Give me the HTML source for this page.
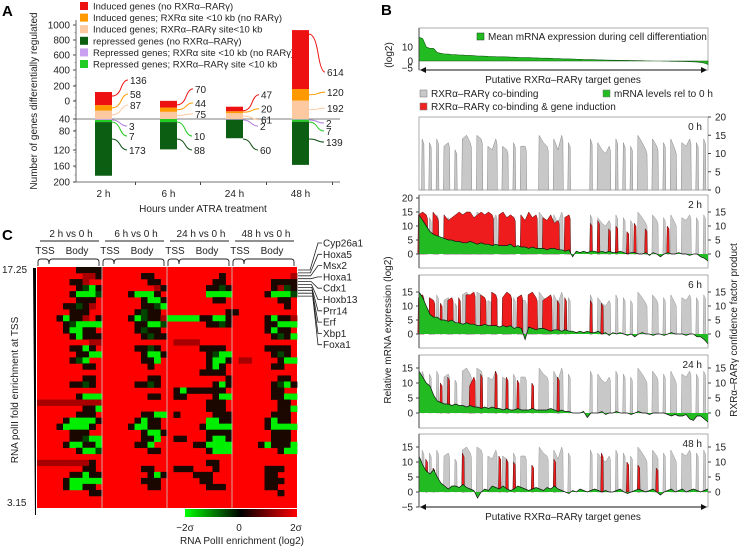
<!DOCTYPE html>
<html><head><meta charset="utf-8"><style>
html,body{margin:0;padding:0;background:#fff}
svg{display:block;font-family:"Liberation Sans",sans-serif}
</style></head><body>
<svg id="fig" width="743" height="546" viewBox="0 0 743 546" xmlns="http://www.w3.org/2000/svg">
<g id="pa"></g>
<g id="pb"></g>
<g id="pc"></g>
</svg>
<script>
// ---------- Panel A data ----------
const aTimes = ["2 h","6 h","24 h","48 h"];
const aPale = [87,75,61,192];
const aOrange = [58,44,20,120];
const aRed = [136,70,47,614];
const aLilac = [3,0,2,2];
const aGreen = [7,10,0,7];
const aDark = [173,88,60,139];
const aUpTicks = [1000,800,600,400,200,0];
const aDownTicks = [40,80,120,160,200];
// ---------- Panel B data ----------
const bMean = [17,16,10,9,9,6,5.5,5,5,4.5,4.5,4.3,4.2,4,4,3.8,3.6,3.5,3.4,3.3,3.2,3.1,3,3,2.9,2.8,2.7,2.6,2.5,2.5,2.4,2.3,2.2,2.1,2,2,1.9,1.8,1.7,1.6,1.5,1.5,1.4,1.3,1.2,1.1,1,1,0.9,0.8,0.8,0.7,0.6,0.6,0.5,0.5,0.4,0.4,0.3,0.3,0.2,0.2,0.1,0.1,0,0,0,-0.1,-0.1,-0.2,-0.2,-0.3,-0.3,-0.4,-0.5,-0.6,-0.8,-1,-1.5,-2.5];
const bBind = [0,14,0,13,0,14,0,12,13,0,11,0,14,15,13,0,15,14,0,12,11,14,0,12,11,0,13,0,12,12,0,0,0,15,13,12,0,14,11,15,0,13,0,0,0,0,0,14,0,13,11,10,12,0,14,0,13,0,12,0,15,13,11,0,14,12,0,13,0,14,11,0,13,12,14,0,13,0,14,0];
const bRed2 = [14,15,14,0,15,13,0,14,12,13,14,15,14,15,15,13,14,15,14,15,14,0,14,15,13,14,13,0,14,12,15,13,14,0,13,12,14,11,12,0,13,14,0,0,0,0,0,11,0,12,0,0,9,0,10,0,0,8,0,11,0,0,9,0,0,0,0,0,10,0,0,0,0,0,0,0,0,0,0,0];
const bRed6 = [13,14,0,13,12,0,11,0,12,13,0,13,0,14,14,15,0,14,13,0,15,14,0,13,15,14,0,13,14,0,14,15,13,0,12,13,14,0,12,0,13,0,0,0,0,0,0,12,0,0,11,0,0,0,0,0,0,0,0,0,0,0,0,0,0,0,0,0,0,0,0,0,0,0,0,0,0,0,0,0];
const bRed24 = [0,0,0,0,0,0,10,0,12,0,0,0,0,0,9,12,0,13,0,0,0,14,0,0,12,0,0,11,0,0,0,10,0,0,0,0,0,0,12,0,0,0,0,0,0,0,0,0,0,0,0,0,0,0,0,0,0,0,0,0,0,0,0,0,0,0,0,0,0,0,0,0,0,0,0,0,0,0,0,0];
const bRed48 = [0,0,11,0,8,0,0,0,0,0,0,0,13,0,0,0,0,0,0,0,0,0,12,0,11,0,10,0,0,0,0,9,0,0,0,0,0,11,0,0,0,0,0,0,0,0,0,0,0,0,13,0,0,0,0,0,0,10,0,0,9,0,0,0,0,8,0,0,0,0,0,0,0,0,0,0,0,0,0,0];
const bM2 = [14,12,10,8,7,6.5,6,5.5,5,5,4.5,4.5,4,4,4.5,4,3.5,4,3.5,3.5,3,3.5,3,3,3,3.5,2.5,3,2.5,2.5,2,2.5,2,2,2,1.5,2,2,1.5,1.5,1,1.5,-1,1,0.5,1,0.5,1,1,0.5,1,0.5,1,0.5,0.5,1,0.5,0,0.5,0.5,0,0,0.5,-0.5,0.5,0,-1,0,0.5,0,0,0.5,0,0,-0.5,0,0,-1,-1.5,-2.5];
const bM6 = [15,13,10,7,6,6,5,5,4.5,5,4,4,3.5,4,3.5,3.5,3,3,3.5,3,3,3,2.5,3,2.5,3,2,2.5,2,-2,2.5,2,1.5,2,2,1.5,1,1.5,1.5,1,1.5,1,1,0.5,1,0.5,1,0.5,0.5,1,0,0.5,-0.5,0.5,0,0.5,0,-0.5,0,-1,0,0.5,0,0,-0.5,0,0,-0.5,0,0.5,0,0,0,-0.5,0,0,-1,-1,-2,-3.5];
const bM24 = [14,12,10,9,6,4,3.5,3,3,2.5,3,2.5,2.5,2,2.5,2,2,1.5,2,1.5,2,1.5,1.5,1,1.5,1,1,1.5,1,1,1,1.5,1,1,1,1,1.5,1,0.5,1,0.5,0.5,0,0,0,0.5,-1.5,0,0,0,0.5,-0.5,0,0,0.5,0,0,0,-0.5,0,0.5,0,0,-0.5,0,0,0,0,-0.5,-1,-0.5,-1,-1,-0.5,-2,-2.5,-1,-1,-2,-3];
const bM48 = [12,9,7,6,7.5,5,3,2,1,2,2,1.5,2.5,1.5,1,0.5,-2,0,1,0.5,2,1.5,1,2,1,0.5,1,2,1.5,1,0.5,1,1.5,1,0.5,1.5,1,2,1,0.5,0,-0.5,0.5,0,1,0.5,0,0.5,1,0.5,0,0.5,0,0,0.5,1,0,-0.5,0,0.5,1,0.5,0,0.5,1,0,-1,0,0.5,1,0,0.5,1,0,0.5,1,0.5,0,0.5,1];
const bPanelLabels = ["2 h","6 h","24 h","48 h"];
const bLeftTicks = [15,10,5,0];
const bRightTicks = [15,10,5,0];
// ---------- Panel C data ----------
const cBlocks = ["2 h vs 0 h","6 h vs 0 h","24 h vs 0 h","48 h vs 0 h"];
const cGenes = ["Cyp26a1","Hoxa5","Msx2","Hoxa1","Cdx1","Hoxb13","Prr14","Erf","Xbp1","Foxa1"];
const cRows = [
"RRRRRRkkkkRRRRRRRRRRRRRRRRRRRRRRRRRRRRRR",
"RRRRRRRddkRRRRRRkkRRRRRRRRRRkRRRRRRRRRRd",
"RRRRRkkdRRRRRRRRRkkRRRRRRRRkkRRRRRRRkkkk",
"RRRRRRkxgkRRRRRRRRdkRRRRRRkkxkRRRRRRkdxk",
"RRRRRkgggxRRRRkgggkRRRRRRRggggRRRRRkgggx",
"RRRRRRkkkRRRRRRRkggkRRRRRRRkkRRRRRRRRkkR",
"RRRRkkxkdRRRRRRRkkxgRRRRRRRRRRRRRRRRRRkR",
"RRRRRkkkRRRRRRRkxkkRRRRRRRRRRkkRRRRRRRRR",
"RRRkgkkdRkRRRRkgxkkdgggggkkggkRRRRRkgkkd",
"RRRRkxggggRRRRRkkggxRRRRRRkkxkRRRRRkkggg",
"RRRRkggkkRRRRRRkxkkRRRRRRRRRRRRRRRRkgkkR",
"RRRRRkgkkkRRRRRRkxkkRRRRRRRRRRRRRRRRkxkg",
"RRRRRRRRddRRRRRRRRRRRddddRRRRRRRRRRRRRRR",
"RRRRRkkgkRRRRRRkkxkRRRRRRkkkkRRRRRRkkkkR",
"RRRRRRkkggRRRRRRkggkRRRRRRkxggRRRRRRkxkR",
"RRRRRkxgRRRRRRRRkkgRRRRRRRkggkRddRRRRkgg",
"RRRRRRRkkRRRRRRRRkRRRRRRRRkgkRRRRRRRkkRR",
"RRRRRRRRRRRRRRRRRRRRRRRRRkkkkRRRRRRRRRRR",
"RRRRRRRkkRRRRRRRRkkRRRRRRRRRRkRRRRRRRkkR",
"RRRRRkkxkRRRRRRkkxkRRRRRRRRkgkRRRRRRkxgk",
"RRRRRRRRRRRRRRRRRRRRRkgkkkkkkRRRRRRRkkRR",
"RRRRRRkgggRRRRRRRkkRRkkRRRRkggRRRRRRkkgg",
"ddddddddddRRRRRRRRRRRRRRRRkkkRRRRRRRRkkR",
"RRRRRRRkkgRRRRRRRRRRRRRRRRkkkRRRRRRRRkkg",
"RRRRRRkkkRRRRRRRkkggRkRRRRRkkkRRRRRRkkkR",
"RRRRkggggkRRRRRkgkkRRRRRRRggkkRRRRRkgkkR",
"RRRkggggkRRRRRkggkkRRRRRRkggggRRRRRkgggg",
"RRRRRkkkRRRRRRRRkggkRRRRRRkkkkRRRRRRkkkR",
"RRRRRkkxggRRRRRRkkgRRkkRRRkggkRRRRRRkkkR",
"RRRRkggkkgRRRRRkkgRRRRRRkkggggRRRRkgkkkg",
"RRRRRRkggxRRRRRRRkkRRRRRRRkgggRRRRRRRkgg",
"RRRRRRRRRRRRRRRRRRRRRRRRRRRRRRRRRRRRRRRR",
"ddddddddkRRRRRRRRRRRRRRRRRkkRRRRRRRRRRRR",
"RRRRRRRkkRRRRRRRkkRRRkkkRRRkRRRRRRRkkkRR",
"RRRRRkkgkkRRRRRRRkgkRRRRkkkRRRRRRRRkkRRR",
"RRRRkgggggRRRRRRkkkRRRRRRkkRRRRRRRRkkkRR",
"RRRRkggkkRRRRRRRRkkRRRRRRRkkkRRRRRRkkRRR",
"RRRRRRRRkkRRRRRRRRRRRRRRRRRRRRRRRRRRRkRR",
"RRRRRRRRRRRRRRRRRRRRRRRRRRRRRRRRRRRRRRRR",
"RRRRRRRRRRRRRRRRRRRRRRRRRRRRRRRRRRRRRRRR"];

const NS="http://www.w3.org/2000/svg";
function mk(parent,tag,attrs,text){const e=document.createElementNS(NS,tag);for(const k in attrs)e.setAttribute(k,attrs[k]);if(text!==undefined)e.textContent=text;parent.appendChild(e);return e;}
const pa=document.getElementById('pa'),pb=document.getElementById('pb'),pc=document.getElementById('pc');

// ===== Panel A =====
let t=mk(pa,'text',{x:2,y:16,'font-size':15,'font-weight':'bold'},'A');


const aLeg=[["#ee1111","Induced genes (no RXRα–RARγ)"],["#ff9900","Induced genes; RXRα site <10 kb (no RARγ)"],["#fcc9a0","Induced genes; RXRα–RARγ site<10 kb"],["#0b5e12","repressed genes (no RXRα–RARγ)"],["#c9a0f0","Repressed genes; RXRα site <10 kb (no RARγ)"],["#22cc22","Repressed genes; RXRα–RARγ site <10 kb"]];
aLeg.forEach((l,i)=>{const y=6+i*11.6;
 const g=mk(pa,'g',{});
 
 
 mk(g,'rect',{x:80,y:y-4,width:8,height:8,fill:l[0]});
 mk(g,'text',{x:93,y:y+3.5,'font-size':9.5,fill:'#222'},l[1]);});
const A0=119, upS=0.096, dnS=0.31;
const upTickY=[25,40,55,70,86,101], dnTickY=[119,131,150,166,182];
mk(pa,'line',{x1:76,y1:20,x2:76,y2:182,stroke:'#444','stroke-width':0.8});
aUpTicks.forEach((v,i)=>{mk(pa,'line',{x1:73,x2:76,y1:upTickY[i],y2:upTickY[i],stroke:'#444'});
 const tt=mk(pa,'text',{x:70,y:upTickY[i]+3.5,'font-size':10,'text-anchor':'end',fill:'#222'},String(v));
 });
aDownTicks.forEach((v,i)=>{mk(pa,'line',{x1:73,x2:76,y1:dnTickY[i],y2:dnTickY[i],stroke:'#444'});
 const tt=mk(pa,'text',{x:70,y:dnTickY[i]+3.5,'font-size':10,'text-anchor':'end',fill:'#222'},String(v));
 });
for(let y=25;y<182;y+=7.5){mk(pa,'line',{x1:74.5,x2:76,y1:y,y2:y,stroke:'#666','stroke-width':0.5});}
t=mk(pa,'text',{x:0,y:0,'font-size':10,'text-anchor':'middle',transform:'translate(37,101) rotate(-90)',fill:'#222'},'Number of genes differentially regulated');

mk(pa,'line',{x1:76,y1:182,x2:340,y2:182,stroke:'#444','stroke-width':0.8});
mk(pa,'line',{x1:76,y1:A0,x2:340,y2:A0,stroke:'#555','stroke-width':0.8});
const barX=[95,160,226,292];
aTimes.forEach((lab,i)=>{
 const x=barX[i],w=17;let y=A0;
 const g=mk(pa,'g',{});
 
 
 [[aPale[i],'#fcc9a0'],[aOrange[i],'#ff9900'],[aRed[i],'#ee1111']].forEach(s=>{const h=s[0]*upS;y-=h;mk(g,'rect',{x:x,y:y,width:w,height:h,fill:s[1]});});
 let yd=A0;
 [[aLilac[i],'#c9a0f0'],[aGreen[i],'#22cc22'],[aDark[i],'#0b5e12']].forEach(s=>{const h=s[0]*dnS;mk(g,'rect',{x:x,y:yd,width:w,height:h,fill:s[1]});yd+=h;});
 const top=A0-(aPale[i]+aOrange[i]+aRed[i])*upS;
 const up=[[aRed[i],'#ee1111',top+4,top-12],[aOrange[i],'#ff9900',A0-(aPale[i]+aOrange[i]*0.5)*upS,top+2],[aPale[i],'#fcc9a0',A0-aPale[i]*0.5*upS,top+13]];
 if(i===3){up[0][3]=top+42;up[1][3]=top+62;up[2][3]=top+78;}
 up.forEach(u=>{mk(pa,'path',{d:`M${x+w} ${u[2]} Q${x+w+6} ${u[2]} ${x+w+9} ${(u[2]+u[3])/2} T${x+w+16} ${u[3]}`,fill:'none',stroke:u[1],'stroke-width':1});
  const tt=mk(pa,'text',{x:x+w+18,y:u[3]+4,'font-size':10,fill:'#222'},String(u[0]));
  });
 const dn=[[aLilac[i],'#b080e0',A0+1,A0+7],[aGreen[i],'#22cc22',A0+3,A0+17],[aDark[i],'#0b4e10',A0+20,A0+31]];
 if(i===3){dn[0][3]=A0+4;dn[1][3]=A0+12;dn[2][3]=A0+23;}
 dn.forEach(u=>{if(!u[0])return;mk(pa,'path',{d:`M${x+w} ${u[2]} Q${x+w+5} ${u[2]} ${x+w+8} ${(u[2]+u[3])/2} T${x+w+15} ${u[3]}`,fill:'none',stroke:u[1],'stroke-width':1});
  const tt=mk(pa,'text',{x:x+w+17,y:u[3]+4,'font-size':10,fill:'#222'},String(u[0]));
  });
 const xt=mk(pa,'text',{x:x+w/2,y:197,'font-size':10,'text-anchor':'middle',fill:'#222'},lab);
 
 mk(pa,'line',{x1:x+w/2+32,x2:x+w/2+32,y1:182,y2:185,stroke:'#444'});
});
t=mk(pa,'text',{x:203,y:212,'font-size':10,'text-anchor':'middle',fill:'#222'},'Hours under ATRA treatment');


// ===== Panel B =====
t=mk(pb,'text',{x:381,y:15,'font-size':15,'font-weight':'bold'},'B');

const X0=419,X1=708,N=bBind.length;
const gx=i=>X0+i*(X1-X0)/(N-1);
function area(g,arr,yf,fill,stroke){let d=`M${gx(0)} ${yf(0)}`;arr.forEach((v,i)=>d+=` L${gx(i).toFixed(1)} ${yf(v).toFixed(1)}`);d+=` L${gx(N-1)} ${yf(0)} Z`;mk(g,'path',{d:d,fill:fill,stroke:stroke||'none','stroke-width':0.6});}
// spike area: zeros drop to base right next to neighbours, giving narrow spikes
function spikes(g,arr,yf,fill,stroke){
 let d='';
 let open=false;
 arr.forEach((v,i)=>{
  const x=gx(i);
  if(v>0){
   if(!open){d+=`M${(x-1.2).toFixed(1)} ${yf(0)} L${(x-0.6).toFixed(1)} ${yf(v).toFixed(1)}`;open=true;}
   else d+=` L${x.toFixed(1)} ${yf(v).toFixed(1)}`;
   const nx=arr[i+1];
   if(!(nx>0)){d+=` L${(x+1.2).toFixed(1)} ${yf(v*0.9).toFixed(1)} L${(x+1.6).toFixed(1)} ${yf(0)} Z `;open=false;}
  }
 });
 mk(g,'path',{d:d,fill:fill,stroke:stroke||'none','stroke-width':0.5});
}
function line(g,arr,yf){let d='';arr.forEach((v,i)=>d+=(i?' L':'M')+gx(i).toFixed(1)+' '+yf(v).toFixed(1));mk(g,'path',{d:d,fill:'none',stroke:'#111','stroke-width':0.7});}
{const g=mk(pb,'g',{});
 const yf=v=>61-v*1.4;
 mk(g,'rect',{x:X0,y:28,width:X1-X0,height:42,fill:'none',stroke:'#999','stroke-width':0.8});
 area(g,bMean,yf,'#22bb22','#115511');
 mk(g,'line',{x1:X0,x2:X0,y1:28,y2:70,stroke:'#444'});
 [[10,'10'],[0,'0'],[-5,'−5']].forEach(k=>{mk(g,'text',{x:413,y:yf(k[0])+3.5,'font-size':10,'text-anchor':'end',fill:'#222'},k[1]);});
 mk(g,'text',{x:0,y:0,'font-size':10,'text-anchor':'middle',transform:'translate(392,55) rotate(-90)',fill:'#222'},'(log2)');
 mk(g,'rect',{x:477,y:33,width:7,height:7,fill:'#22bb22',stroke:'#114411','stroke-width':0.5});
 mk(g,'text',{x:488,y:40,'font-size':10,fill:'#222'},'Mean mRNA expression during cell differentiation');
 mk(g,'line',{x1:X0+3,x2:X1-3,y1:70,y2:70,stroke:'#111','stroke-width':1});
 mk(g,'path',{d:`M${X0+1} 70 l6 -3 v6 z M${X1-1} 70 l-6 -3 v6 z`,fill:'#111'});
 mk(g,'text',{x:563,y:83,'font-size':10,'text-anchor':'middle',fill:'#222'},'Putative RXRα–RARγ target genes');}
[[420,96,'#c8c8c8','RXRα–RARγ co-binding'],[603,96,'#22bb22','mRNA levels rel to 0 h'],[420,109,'#ee2222','RXRα–RARγ co-binding & gene induction']].forEach(l=>{
 const g=mk(pb,'g',{});
 mk(g,'rect',{x:l[0],y:l[1]-6,width:7,height:7,fill:l[2],stroke:'#777','stroke-width':0.5});
 mk(g,'text',{x:l[0]+11,y:l[1]+1,'font-size':10,fill:'#222'},l[3]);});
{const g=mk(pb,'g',{});
 const yf=v=>190-v*73/20;
 mk(g,'rect',{x:X0,y:117,width:X1-X0,height:73,fill:'none',stroke:'#999','stroke-width':0.8});
 spikes(g,bBind,yf,'#c8c8c8','#888');
 [20,15,10,5,0].forEach(v=>{mk(g,'line',{x1:X1,x2:X1+3,y1:yf(v),y2:yf(v),stroke:'#444'});mk(g,'text',{x:715,y:yf(v)+3.5,'font-size':10,fill:'#222'},String(v));});
 mk(g,'text',{x:702,y:130,'font-size':10,'text-anchor':'end',fill:'#222'},'0 h');}
const bPanels=[[bRed2,bM2,195,254,268],[bRed6,bM6,275,334,348],[bRed24,bM24,355,413,428],[bRed48,bM48,434,492,507]];
bPanels.forEach((p,k)=>{
 const g=mk(pb,'g',{});
 const top=p[2],z=p[3],bot=p[4],s=(z-bot)/-5;
 const yf=v=>z-v*s;
 mk(g,'rect',{x:X0,y:top,width:X1-X0,height:bot-top,fill:'none',stroke:'#999','stroke-width':0.8});
 spikes(g,bBind,yf,'#c8c8c8','#999');
 spikes(g,p[0],yf,'#ee1c1c','#551111');
 area(g,p[1],yf,'#22bb22');
 line(g,p[1],yf);
 mk(g,'line',{x1:X0,x2:X0,y1:top,y2:bot,stroke:'#444'});
 const lt=k===0?[20].concat(bLeftTicks):bLeftTicks.slice();
 if(k===3)lt.push(-5);
 lt.forEach(v=>{mk(g,'line',{x1:X0-3,x2:X0,y1:yf(v),y2:yf(v),stroke:'#444'});mk(g,'text',{x:413,y:yf(v)+3.5,'font-size':10,'text-anchor':'end',fill:'#222'},v<0?'−5':String(v));});
 bRightTicks.forEach(v=>{mk(g,'line',{x1:X1,x2:X1+3,y1:yf(v),y2:yf(v),stroke:'#444'});mk(g,'text',{x:715,y:yf(v)+3.5,'font-size':10,fill:'#222'},String(v));});
 mk(g,'text',{x:702,y:top+13,'font-size':10,'text-anchor':'end',fill:'#222'},bPanelLabels[k]);
});
{const g=mk(pb,'g',{});
 mk(g,'line',{x1:X0+3,x2:X1-3,y1:507,y2:507,stroke:'#111','stroke-width':1});
 mk(g,'path',{d:`M${X0+1} 507 l6 -3 v6 z M${X1-1} 507 l-6 -3 v6 z`,fill:'#111'});
 mk(g,'text',{x:563,y:520,'font-size':10,'text-anchor':'middle',fill:'#222'},'Putative RXRα–RARγ target genes');
 mk(g,'text',{x:0,y:0,'font-size':10,'text-anchor':'middle',transform:'translate(391,330) rotate(-90)',fill:'#222'},'Relative mRNA expression (log2)');
 mk(g,'text',{x:0,y:0,'font-size':10,'text-anchor':'middle',transform:'translate(737,330) rotate(-90)',fill:'#222'},'RXRα–RARγ confidence factor product');}

// ===== Panel C =====
t=mk(pc,'text',{x:2,y:240,'font-size':15,'font-weight':'bold'},'C');

const HX0=37,HX1=297,HY0=267,HY1=508;
const colorMap={R:'#ff0000',d:'#a80000',k:'#1a0800',x:'#004400',g:'#00ee00'};
{const g=mk(pc,'g',{});
 mk(g,'rect',{x:HX0,y:HY0,width:HX1-HX0,height:HY1-HY0,fill:'#ff0000'});
 const rh=(HY1-HY0)/cRows.length, cw=(HX1-HX0)/40;
 cRows.forEach((row,r)=>{for(let c=0;c<40;c++){const ch=row[c]||'R';if(ch==='R')continue;
  mk(g,'rect',{x:(HX0+c*cw).toFixed(2),y:(HY0+r*rh).toFixed(2),width:(cw+0.4).toFixed(2),height:(rh+0.3).toFixed(2),fill:colorMap[ch]||'#ff0000'});}});
 for(let b=1;b<4;b++){const x=HX0+b*(HX1-HX0)/4;mk(g,'line',{x1:x,x2:x,y1:HY0,y2:HY1,stroke:'#ccc','stroke-width':0.8});}}
cBlocks.forEach((lab,b)=>{const x0=HX0+b*65;
 const g=mk(pc,'g',{});
 mk(g,'text',{x:x0+34,y:237,'font-size':10,'text-anchor':'middle',fill:'#222'},lab);
 mk(g,'line',{x1:x0+3,x2:x0+62,y1:241,y2:241,stroke:'#222','stroke-width':1});
 mk(g,'text',{x:x0+8,y:254,'font-size':10,'text-anchor':'middle',fill:'#222'},'TSS');
 mk(g,'text',{x:x0+40,y:254,'font-size':10,'text-anchor':'middle',fill:'#222'},'Body');
 mk(g,'path',{d:`M${x0+1} 266 v-4 q0 -3 3 -3 h5 q3 0 3 5 q0 -5 3 -5 h44 q3 0 3 3 v4`,fill:'none',stroke:'#222','stroke-width':0.9});});
mk(pc,'path',{d:'M33 268 L36 268 L36 515 L35 515 Z',fill:'#000'});
mk(pc,'text',{x:2,y:273,'font-size':10,fill:'#222'},'17.25');
mk(pc,'text',{x:7,y:506,'font-size':10,fill:'#222'},'3.15');
t=mk(pc,'text',{x:0,y:0,'font-size':10,'text-anchor':'middle',transform:'translate(18,390) rotate(-90)',fill:'#222'},'RNA polII fold enrichment at TSS');

cGenes.forEach((gname,i)=>{const ly=243+i*11.3, ry=270+i*2.9;
 const g=mk(pc,'g',{});
 mk(g,'path',{d:`M298 ${ry.toFixed(1)} H${310+i*0.3} L${318} ${ly.toFixed(1)} H322`,fill:'none',stroke:'#222','stroke-width':0.8});
 mk(g,'text',{x:323,y:ly+3.5,'font-size':10,fill:'#222'},gname);});
{const g=mk(pc,'g',{});
 const defs=mk(g,'defs',{});const lg=mk(defs,'linearGradient',{id:'cb'});
 mk(lg,'stop',{offset:'0','stop-color':'#00ff00'});mk(lg,'stop',{offset:'0.5','stop-color':'#000'});mk(lg,'stop',{offset:'1','stop-color':'#ff0000'});
 mk(g,'rect',{x:185,y:509,width:112,height:8,fill:'url(#cb)'});
 mk(g,'text',{x:185,y:531,'font-size':10,'text-anchor':'middle',fill:'#222'},'−2σ');
 mk(g,'text',{x:239,y:531,'font-size':10,'text-anchor':'middle',fill:'#222'},'0');
 mk(g,'text',{x:296,y:531,'font-size':10,'text-anchor':'middle',fill:'#222'},'2σ');
 mk(g,'text',{x:242,y:544,'font-size':10,'text-anchor':'middle',fill:'#222'},'RNA PolII enrichment (log2)');}
</script>
</body></html>
